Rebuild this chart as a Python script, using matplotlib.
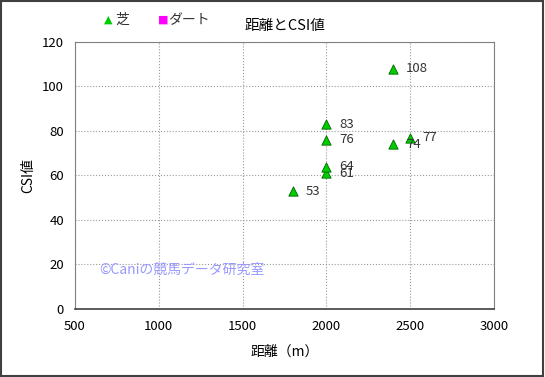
import matplotlib
matplotlib.use("Agg")
import matplotlib.pyplot as plt
from matplotlib.patches import Rectangle

plt.rcParams['font.family'] = ['Noto Sans CJK JP', 'DejaVu Sans']

distance = [1800, 2000, 2000, 2000, 2000, 2400, 2400, 2500]
csi = [53, 61, 64, 76, 83, 108, 74, 77]
xticks = [500, 1000, 1500, 2000, 2500, 3000]
yticks = [0, 20, 40, 60, 80, 100, 120]

fig = plt.figure(figsize=(5.45, 3.77), dpi=100)
fig.patches.append(Rectangle((0.002, 0.003), 0.995, 0.994, transform=fig.transFigure,
                             fill=False, edgecolor='#404040', linewidth=1.5))
ax = fig.add_axes([0.1376, 0.1804, 0.7688, 0.7082])
ax.scatter(distance, csi, marker='^', s=45, color='#00cc00', edgecolors='#006600',
           linewidths=0.6, zorder=3)
for x, y in zip(distance, csi):
    ax.annotate(str(y), (x, y), xytext=(9, 0), textcoords='offset points',
                va='center', ha='left', fontsize=9.5, color='#333333', zorder=4)
ax.set_xlim(500, 3000)
ax.set_ylim(0, 120)
ax.set_xticks(xticks)
ax.set_yticks(yticks)
ax.tick_params(length=0, labelsize=9.5, pad=8)
ax.grid(True, linestyle=':', color='#999999', linewidth=0.8)
for s in ax.spines.values():
    s.set_color('#808080')
ax.spines['bottom'].set_color('#404040')
ax.spines['bottom'].set_linewidth(1.2)
ax.set_xlabel('距離（m）', fontsize=10, labelpad=8)
ax.set_ylabel('CSI値', fontsize=10, labelpad=5)
fig.text(0.523, 0.932, '距離とCSI値', ha='center', va='center', fontsize=10.5)
fig.text(0.19, 0.947, '▲', color='#00cc00', ha='left', va='center', fontsize=8,
         family=['DejaVu Sans'])
fig.text(0.212, 0.947, '芝', color='#333333', ha='left', va='center', fontsize=10)
fig.text(0.29, 0.947, '■', color='#ff00ff', ha='left', va='center', fontsize=8,
         family=['DejaVu Sans'])
fig.text(0.308, 0.947, 'ダート', color='#333333', ha='left', va='center', fontsize=10)
ax.text(0.058, 0.145, '©Caniの競馬データ研究室', transform=ax.transAxes,
        color='#9999ff', fontsize=10, ha='left', va='center')
fig.savefig('out.png', dpi=100)
